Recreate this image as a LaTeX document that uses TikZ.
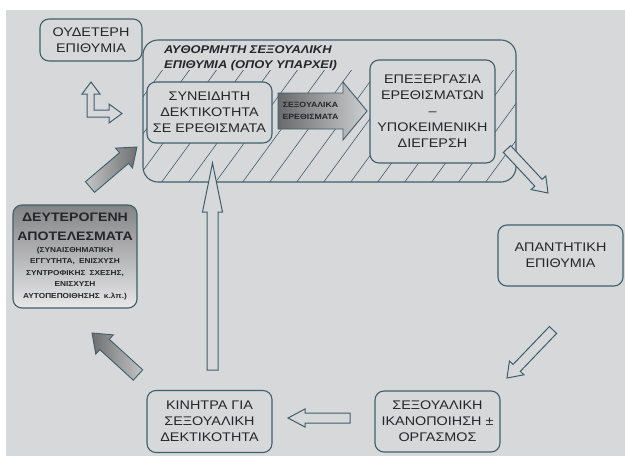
\documentclass[tikz,border=0pt]{standalone}
\usepackage{fontspec}
\setmainfont{Liberation Sans}[FakeStretch=1.15]
\usepackage{tikz}
\usetikzlibrary{calc}
\usepackage{xcolor}
\definecolor{bg}{RGB}{215,216,218}
\definecolor{edge}{RGB}{62,94,108}
\definecolor{ink}{RGB}{35,38,42}

% fat arrow: [style]{from}{to}{shaft half width}{head half width}{head length}
\newcommand\fatarrow[6][]{%
  \coordinate (fa-h) at ($(#3)!#6!(#2)$);
  \draw[#1] ($(#2)!#4!90:(#3)$) -- ($(fa-h)!#4!-90:(#2)$) -- ($(fa-h)!#5!-90:(#2)$) -- (#3)
    -- ($(fa-h)!#5!90:(#2)$) -- ($(fa-h)!#4!90:(#2)$) -- ($(#2)!#4!-90:(#3)$) -- cycle;}

\begin{document}
\begin{tikzpicture}[x=1pt,y=-1pt,
  box/.style={draw=edge, line width=1.1pt, rounded corners=9pt, fill=bg, text=ink,
    align=center, inner sep=0pt, font=\fontsize{12.5}{16}\selectfont},
  frame/.style={draw=edge, line width=1.1pt, rounded corners=15pt},
  hatch/.style={draw=edge, line width=0.6pt},
  hollow/.style={draw=edge, line width=1pt, fill=bg, line join=miter},
  greyarrow/.style={draw=edge, line width=0.9pt, line join=miter},
  title/.style={text=ink, align=left, inner sep=0pt, font=\bfseries\itshape\fontsize{11.2}{15}\selectfont}]
\useasboundingbox (0,0) rectangle (625,456);
\fill[white] (0,0) rectangle (625,456);
\fill[bg] (6,10) rectangle (625,456);

% spontaneous desire frame with hatching
\coordinate (sp-nw) at (143,40);
\coordinate (sp-se) at (516,182);
\begin{scope}
  \clip[rounded corners=15pt] (sp-nw) rectangle (sp-se);
  \clip (0,70) rectangle (625,200);
  \foreach \i in {0,...,18}
    \draw[hatch] (53+27*\i,183) -- ++(92,-126);
\end{scope}
\draw[frame] (sp-nw) rectangle (sp-se);
\node[title, anchor=west] (spont) at (164,58.5) {ΑΥΘΟΡΜΗΤΗ ΣΕΞΟΥΑΛΙΚΗ\\ΕΠΙΘΥΜΙΑ (ΟΠΟΥ ΥΠΑΡΧΕΙ)};

% boxes
\node[box, minimum width=102pt, minimum height=42pt] (neutral) at (91,40) {ΟΥΔΕΤΕΡΗ\\ΕΠΙΘΥΜΙΑ};
\node[box, minimum width=125pt, minimum height=61pt] (aware) at (209.5,112.5) {ΣΥΝΕΙΔΗΤΗ\\ΔΕΚΤΙΚΟΤΗΤΑ\\ΣΕ ΕΡΕΘΙΣΜΑΤΑ};
\node[box, minimum width=125pt, minimum height=103pt] (process) at (432.5,111.5) {ΕΠΕΞΕΡΓΑΣΙΑ\\ΕΡΕΘΙΣΜΑΤΩΝ\\–\\ΥΠΟΚΕΙΜΕΝΙΚΗ\\ΔΙΕΓΕΡΣΗ};
\node[box, minimum width=125pt, minimum height=61pt] (respond) at (560.5,255.5) {ΑΠΑΝΤΗΤΙΚΗ\\ΕΠΙΘΥΜΙΑ};
\node[box, minimum width=125pt, minimum height=61pt] (satisf) at (437.5,421.5) {ΣΕΞΟΥΑΛΙΚΗ\\ΙΚΑΝΟΠΟΙΗΣΗ ±\\ΟΡΓΑΣΜΟΣ};
\node[box, minimum width=125pt, minimum height=62pt] (motive) at (209.5,421.5) {ΚΙΝΗΤΡΑ ΓΙΑ\\ΣΕΞΟΥΑΛΙΚΗ\\ΔΕΚΤΙΚΟΤΗΤΑ};
\node[box, minimum height=103pt, top color={rgb,255:red,130;green,131;blue,133},
  bottom color={rgb,255:red,232;green,232;blue,233}, text width=150pt, inner xsep=-13pt,
  font=\bfseries\fontsize{12.3}{19}\selectfont] (second) at (75,256.5)
  {ΔΕΥΤΕΡΟΓΕΝΗ\\ΑΠΟΤΕΛΕΣΜΑΤΑ\par
   \fontsize{7.2}{11.5}\selectfont(ΣΥΝΑΙΣΘΗΜΑΤΙΚΗ\\ΕΓΓΥΤΗΤΑ, ΕΝΙΣΧΥΣΗ\\ΣΥΝΤΡΟΦΙΚΗΣ ΣΧΕΣΗΣ,\\ΕΝΙΣΧΥΣΗ\\ΑΥΤΟΠΕΠΟΙΘΗΣΗΣ κ.λπ.)\par};

% stimuli arrow
\coordinate (st-s) at (278,111);
\coordinate (st-e) at (367,111);
\fatarrow[greyarrow, left color={rgb,255:red,105;green,106;blue,108}, right color={rgb,255:red,205;green,206;blue,208}]{st-s}{st-e}{18pt}{29pt}{24pt}
\node[text=ink, align=center, inner sep=0pt, font=\bfseries\fontsize{7.6}{12.5}\selectfont] (stim) at (310.5,111) {ΣΕΞΟΥΑΛΙΚΑ\\ΕΡΕΘΙΣΜΑΤΑ};

% cycle arrows
\coordinate (a1s) at (507,149);
\coordinate (a1e) at (548,193);
\fatarrow[hollow]{a1s}{a1e}{5pt}{10pt}{14pt}
\coordinate (a2s) at (553,330);
\coordinate (a2e) at (507,378);
\fatarrow[hollow]{a2s}{a2e}{5pt}{10pt}{14pt}
\coordinate (a3s) at (350,418);
\coordinate (a3e) at (288,418);
\fatarrow[hollow]{a3s}{a3e}{5pt}{9pt}{17pt}
\coordinate (a4s) at (212.5,370);
\coordinate (a4e) at (212.5,163);
\fatarrow[hollow]{a4s}{a4e}{5.5pt}{10pt}{49pt}
\coordinate (a5s) at (138,375);
\coordinate (a5e) at (92,333);
\fatarrow[greyarrow, left color={rgb,255:red,110;green,111;blue,113}, right color={rgb,255:red,195;green,196;blue,198}]{a5s}{a5e}{7pt}{13pt}{17pt}
\coordinate (a6s) at (90,187);
\coordinate (a6e) at (137,147);
\fatarrow[greyarrow, left color={rgb,255:red,195;green,196;blue,198}, right color={rgb,255:red,110;green,111;blue,113}]{a6s}{a6e}{7pt}{13pt}{17pt}

% small bent arrow under neutral desire
\draw[hollow] (87,117) -- (87,94) -- (82,94) -- (91,82) -- (100,94) -- (94,94) -- (94,110)
  -- (109,110) -- (109,104) -- (122,113.5) -- (109,123) -- (109,117) -- cycle;
\end{tikzpicture}
\end{document}
